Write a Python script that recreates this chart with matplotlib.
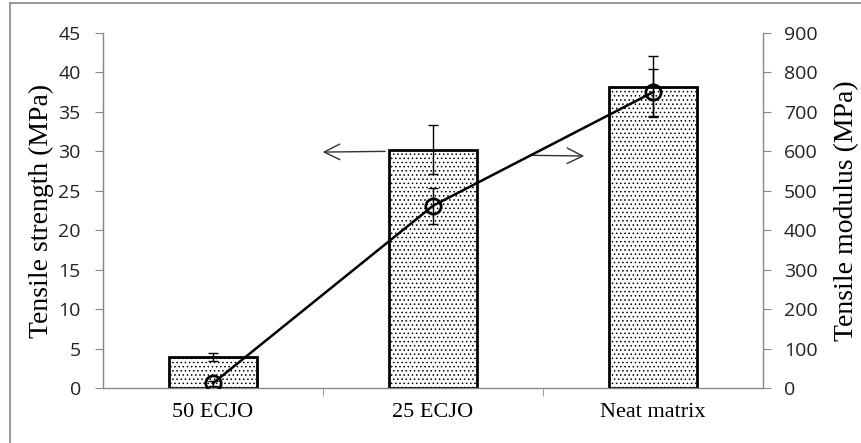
import numpy as np
import matplotlib
matplotlib.use('Agg')
from matplotlib import pyplot as plt
from matplotlib.lines import Line2D

categorias = ['50 ECJO', '25 ECJO', 'Neat matrix']
resistencia = [3.9, 30.2, 38.2]        # tensile strength (MPa)
err_resistencia = [0.5, 3.1, 3.9]
modulo = [12, 462, 750]                # tensile modulus (MPa)
err_modulo = [6, 45, 60]

plt.rcParams['hatch.linewidth'] = 0.6
plt.rcParams['hatch.color'] = 'black'

fig = plt.figure(figsize=(8.61, 4.43), dpi=100)
ax = fig.add_axes([0.1196, 0.1242, 0.7666, 0.8013])
ax2 = ax.twinx()

x = np.arange(len(categorias))
ax.bar(x, resistencia, width=0.4, color='white', edgecolor='black',
       linewidth=2.0, hatch='....', zorder=2)
ax.errorbar(x, resistencia, yerr=err_resistencia, fmt='none', ecolor='black',
            elinewidth=1.0, capsize=3.3, capthick=1.0, zorder=3)

ax2.errorbar(x, modulo, yerr=err_modulo, fmt='none', ecolor='black',
             elinewidth=1.0, capsize=3.3, capthick=1.0, zorder=3)
ax2.plot(x, modulo, '-o', color='black', lw=1.8, ms=11, mfc='none',
         mec='black', mew=2.0, zorder=4)

ax.set_xlim(-0.5, 2.5)
ax.set_ylim(0, 45)
ax2.set_ylim(0, 900)
ax.set_yticks(np.arange(0, 46, 5))
ax2.set_yticks(np.arange(0, 901, 100))

ax.set_xticks(x)
ax.set_xticklabels(categorias, fontsize=16, family='Liberation Serif')
ax.set_xticks([0.5, 1.5], minor=True)
ax.tick_params(axis='x', which='major', length=0, pad=11)
ax.tick_params(axis='x', which='minor', length=6, direction='out', color='#888888')

for a in (ax, ax2):
    for s in a.spines.values():
        s.set_visible(False)
ax.spines['left'].set_visible(True)
ax.spines['bottom'].set_visible(True)
ax2.spines['right'].set_visible(True)
for s in (ax.spines['left'], ax.spines['bottom'], ax2.spines['right']):
    s.set_color('#888888')
    s.set_linewidth(1.0)

ax.tick_params(axis='y', length=6, color='#888888', labelsize=14, pad=10)
ax2.tick_params(axis='y', length=6, color='#888888', labelsize=14, pad=9)
for lab in ax.get_yticklabels() + ax2.get_yticklabels():
    lab.set_family('Open Sans')
    lab.set_color('#222222')

ax.set_ylabel('Tensile strength (MPa)', fontsize=20, family='Liberation Serif')
ax2.set_ylabel('Tensile modulus (MPa)', fontsize=20, family='Liberation Serif')
ax.yaxis.set_label_coords(-0.074, 0.5)
ax2.yaxis.set_label_coords(1.108, 0.5)

# arrows pointing to each axis
ax.annotate('', xy=(0.486, 29.9), xytext=(0.795, 30.0),
            arrowprops=dict(arrowstyle='->', color='#333333', lw=1.0, mutation_scale=28))
ax.annotate('', xy=(1.70, 29.4), xytext=(1.43, 29.5),
            arrowprops=dict(arrowstyle='->', color='#333333', lw=1.0, mutation_scale=28))

# figure border (left and top only)
fig.add_artist(Line2D([10/861, 10/861], [0, 1 - 3/443], color='#888888', lw=1.2))
fig.add_artist(Line2D([10/861, 1], [1 - 3/443, 1 - 3/443], color='#888888', lw=1.2))

fig.savefig('out.png', dpi=100)
